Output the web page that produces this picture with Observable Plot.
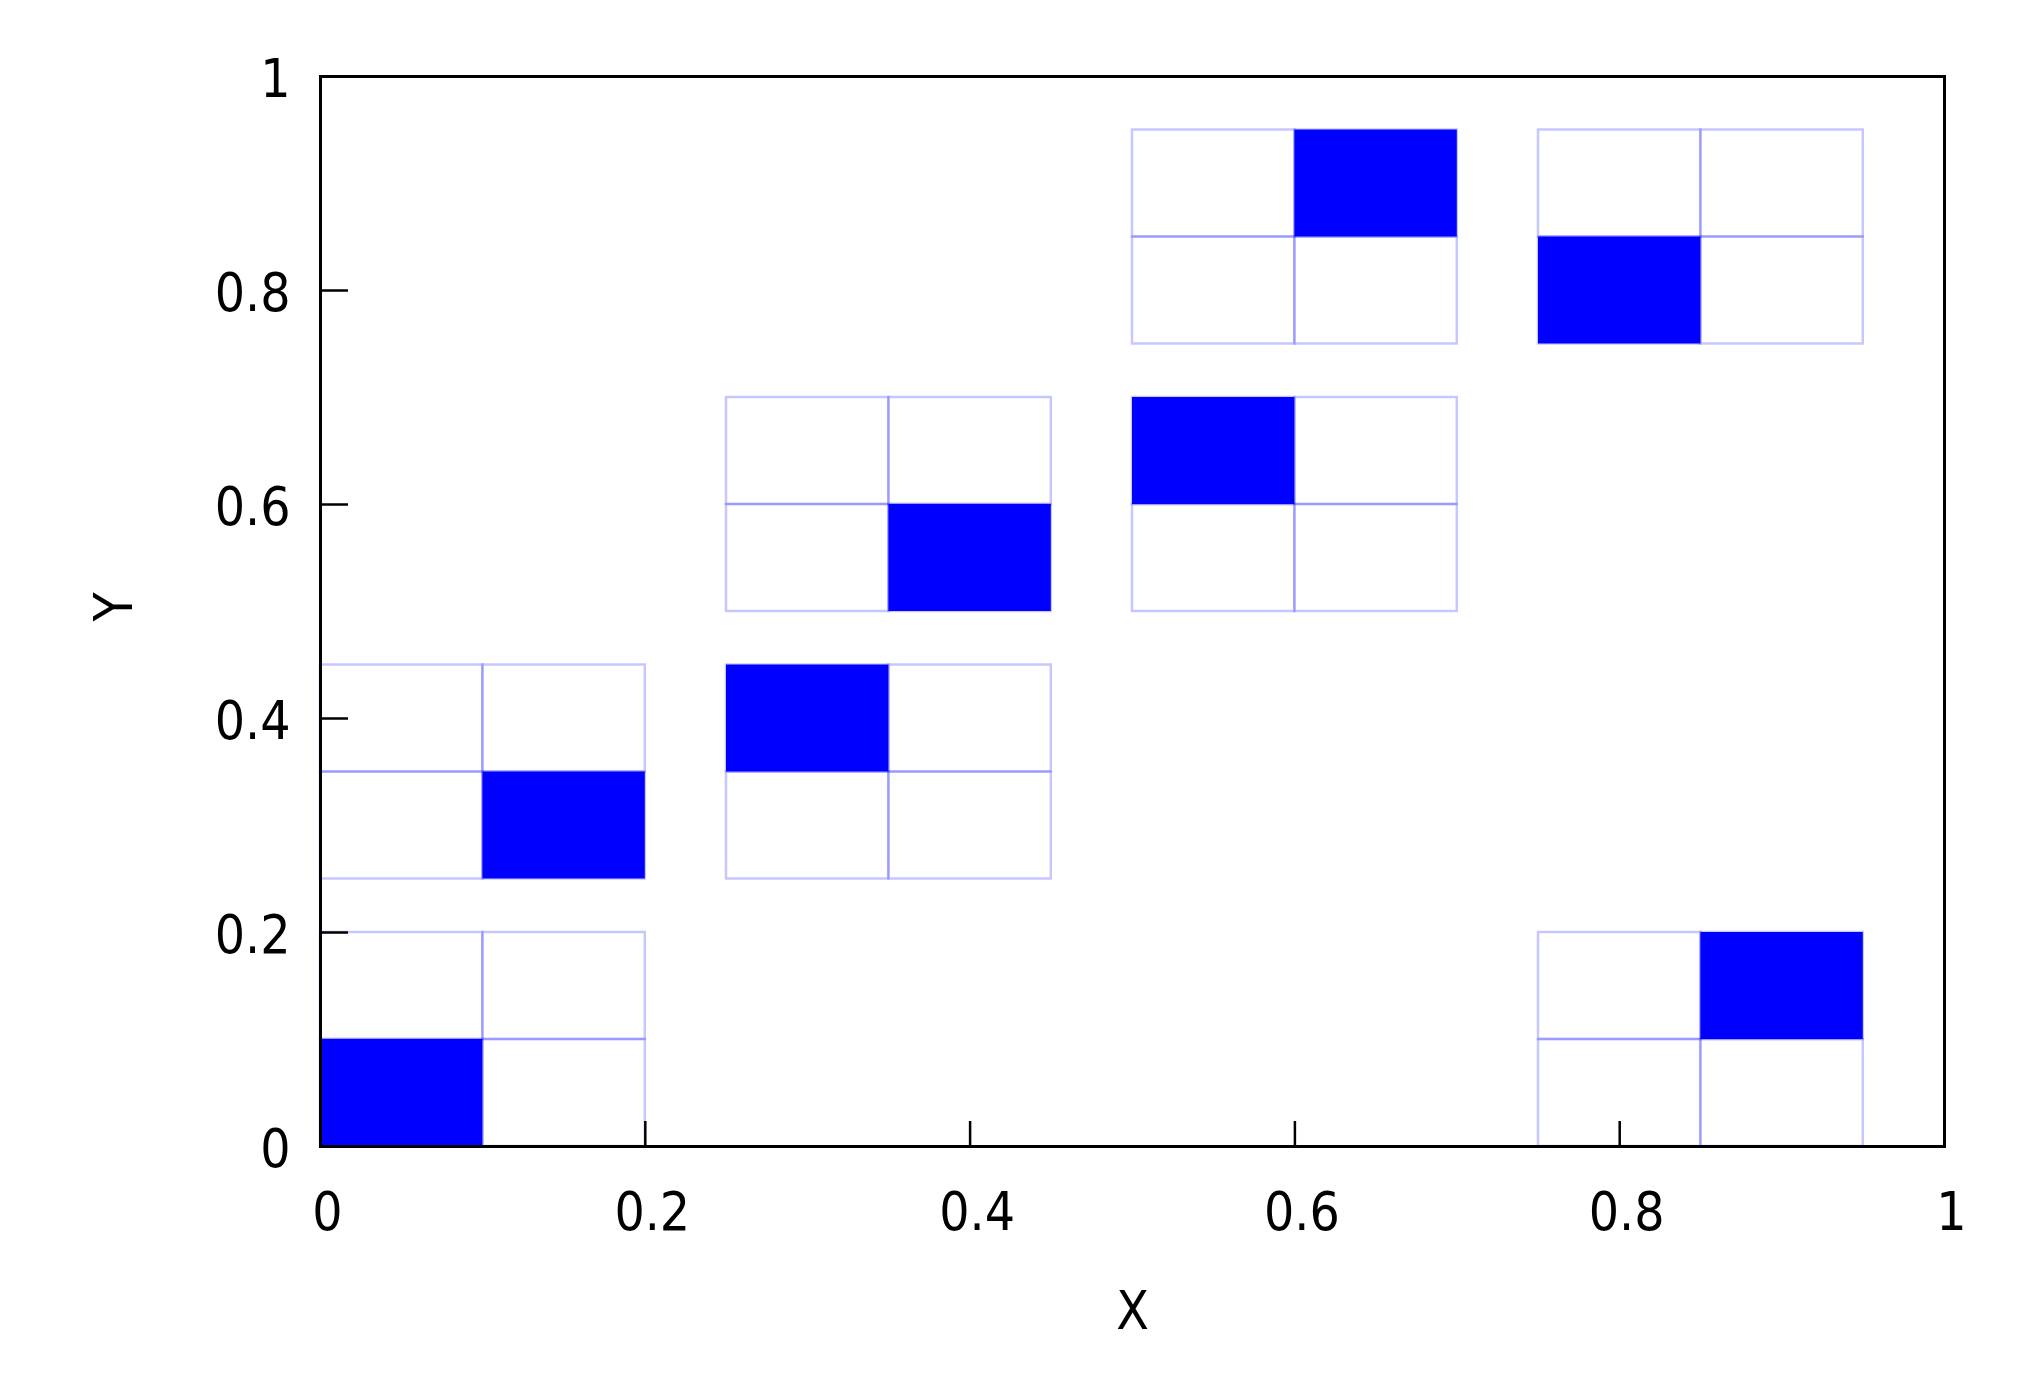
<!DOCTYPE html>
<html>
<head>
<meta charset="utf-8">
<script src="https://cdn.jsdelivr.net/npm/d3@7"></script>
<script src="https://cdn.jsdelivr.net/npm/@observablehq/plot@0.6"></script>
<style>
  html, body { margin: 0; padding: 0; background: #fff; }
  #chart { width: 2028px; height: 1380px; }
</style>
</head>
<body>
<div id="chart"></div>
<script>
// --- data ---
const cellSize = 0.1;
const groupX = [0, 0, 0.25, 0.25, 0.5, 0.5, 0.75, 0.75];
const groupY = [0, 0.25, 0.25, 0.5, 0.5, 0.75, 0.75, 0];
const filledCol = [0, 1, 0, 1, 0, 1, 0, 1];
const filledRow = [0, 0, 1, 0, 1, 1, 0, 1];
const xTicks = [0, 0.2, 0.4, 0.6, 0.8, 1];
const yTicks = [0, 0.2, 0.4, 0.6, 0.8, 1];
const xLabel = "X";
const yLabel = "Y";

// build cell table
const cells = [];
groupX.forEach((gx, g) => {
  for (let r = 0; r < 2; r++) {
    for (let c = 0; c < 2; c++) {
      cells.push({
        x1: gx + c * cellSize,
        x2: gx + (c + 1) * cellSize,
        y1: groupY[g] + r * cellSize,
        y2: groupY[g] + (r + 1) * cellSize,
        filled: c === filledCol[g] && r === filledRow[g]
      });
    }
  }
});

const font = "'DejaVu Sans Condensed', 'DejaVu Sans', sans-serif";
const fs = 53;
const W = 2028, H = 1380;
const mL = 320, mR = 84, mT = 76, mB = 234;
const plotW = W - mL - mR, plotH = H - mT - mB;

const chart = Plot.plot({
  width: W,
  height: H,
  marginLeft: mL,
  marginRight: mR,
  marginTop: mT,
  marginBottom: mB,
  style: { fontFamily: font, fontSize: fs + "px", background: "#fff", color: "#000" },
  x: { domain: [0, 1] },
  y: { domain: [0, 1] },
  marks: [
    Plot.rect(cells.filter(d => d.filled), {
      x1: "x1", x2: "x2", y1: "y1", y2: "y2",
      fill: "#0000ff"
    }),
    Plot.rect(cells, {
      x1: "x1", x2: "x2", y1: "y1", y2: "y2",
      fill: "none", stroke: "#0000ff", strokeOpacity: 0.22, strokeWidth: 2.5
    }),
    // inward ticks
    Plot.tickX(xTicks, { x: d => d, insetTop: plotH - 25, stroke: "#000", strokeWidth: 2.5 }),
    Plot.tickY(yTicks, { y: d => d, insetRight: plotW - 28, stroke: "#000", strokeWidth: 2.5 }),
    Plot.axisX(xTicks, {
      tickSize: 0, tickPadding: 46, label: null, dx: 7,
      tickFormat: d => String(d), fontSize: fs, fontFamily: font, fill: "#000"
    }),
    Plot.axisY(yTicks, {
      tickSize: 0, tickPadding: 30, label: null, dy: 4,
      tickFormat: d => String(d), fontSize: fs, fontFamily: font, fill: "#000"
    }),
    Plot.frame({ stroke: "#000", strokeWidth: 3 }),
    Plot.text([xLabel], { frameAnchor: "bottom", dy: 182, text: d => d, fontSize: fs, fontFamily: font, fill: "#000" }),
    Plot.text([yLabel], { frameAnchor: "left", dx: -205, dy: 10, rotate: -90, text: d => d, fontSize: fs, fontFamily: font, fill: "#000" })
  ]
});
document.getElementById("chart").appendChild(chart);
</script>
</body>
</html>
